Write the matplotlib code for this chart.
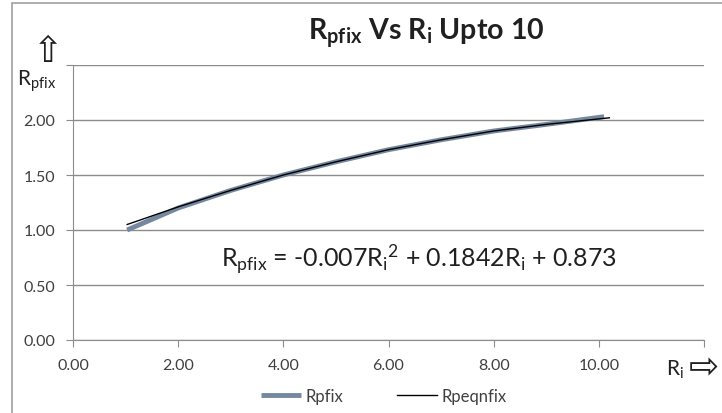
import matplotlib
matplotlib.use("Agg")
import matplotlib.pyplot as plt
from matplotlib.patches import Rectangle

plt.rcParams['font.family'] = ['Lato', 'DejaVu Sans']
plt.rcParams['mathtext.fontset'] = 'custom'
plt.rcParams['mathtext.rm'] = 'Lato'
plt.rcParams['mathtext.it'] = 'Lato'
plt.rcParams['mathtext.bf'] = 'Lato:bold'

# values
ri = [1.03, 2, 3, 4, 5, 6, 7, 8, 9, 10.1]
rpfix = [1.00, 1.20, 1.36, 1.50, 1.62, 1.73, 1.82, 1.90, 1.96, 2.03]
ri_eqn = [1.03, 2, 3, 4, 5, 6, 7, 8, 9, 10.2]
rpeqnfix = [1.05, 1.21, 1.36, 1.50, 1.62, 1.73, 1.82, 1.90, 1.96, 2.02]

x_ticks = [0, 2, 4, 6, 8, 10, 12]
x_labels = ['0.00', '2.00', '4.00', '6.00', '8.00', '10.00', '']
y_ticks = [0, 0.5, 1.0, 1.5, 2.0, 2.5]
y_labels = ['0.00', '0.50', '1.00', '1.50', '2.00', '']

W, H = 722, 414
fig = plt.figure(figsize=(W / 100, H / 100), dpi=100)
ax = fig.add_axes([73 / W, 1 - 341 / H, (704 - 73) / W, (341 - 66) / H])

grid_c = '#8c8c8c'
txt_c = '#404040'

ax.plot(ri, rpfix, color='#7488a0', lw=3.5, label='Rpfix', solid_capstyle='butt')
ax.plot(ri_eqn, rpeqnfix, color='black', lw=1.0, label='Rpeqnfix')

ax.set_xlim(0, 12)
ax.set_ylim(0, 2.5)
ax.set_xticks(x_ticks)
ax.set_xticklabels(x_labels)
ax.set_yticks(y_ticks)
ax.set_yticklabels(y_labels)
ax.grid(axis='y', color=grid_c, lw=1.0)
ax.set_axisbelow(True)
for s in ['top', 'right']:
    ax.spines[s].set_visible(False)
for s in ['left', 'bottom']:
    ax.spines[s].set_color(grid_c)
ax.tick_params(colors=grid_c, labelcolor=txt_c, labelsize=11.5, length=5, direction='out')
ax.tick_params(axis='x', pad=8)
ax.tick_params(axis='y', pad=8)

# equation of the fitted curve
ax.text(0.235, 0.298, r'$\mathregular{R_{pfix}}$ = -0.007$\mathregular{R_i}^2$ + 0.1842$\mathregular{R_i}$ + 0.873',
        transform=ax.transAxes, fontsize=18, color='#202020', va='center', ha='left')

fig.text(426 / W, 1 - 33 / H, r'$\mathbf{R_{pfix}}$ Vs $\mathbf{R_i}$ Upto 10',
         fontsize=20.5, fontweight='bold', ha='center', va='center', color='#202020')

# axis captions with arrows
fig.text(17 / W, 1 - 81 / H, r'$\mathregular{R_{pfix}}$', fontsize=15, color='#202020', va='center')
fig.text(48 / W, 1 - 52 / H, '\u21e7', fontsize=26, color='#202020', ha='center', va='center',
         family=['DejaVu Sans'])
fig.text(666 / W, 1 - 370 / H, r'$\mathregular{R_i}$', fontsize=15, color='#202020', va='center')
fig.text(704 / W, 1 - 368 / H, '\u21e8', fontsize=26, color='#202020', ha='center', va='center',
         family=['DejaVu Sans'])

leg = fig.legend(loc='center', bbox_to_anchor=(384 / W, 1 - 397 / H), ncol=2, frameon=False,
                 fontsize=12, handlelength=2.4, handletextpad=0.3, columnspacing=3.2)
for t in leg.get_texts():
    t.set_color(txt_c)

# outer chart border
fig.patches.append(Rectangle((12 / W, -0.05), 1.1, 1 - 4 / H + 0.05, transform=fig.transFigure,
                             fill=False, edgecolor='#a0a0a0', lw=1.2))

fig.savefig('out.png', dpi=100)
